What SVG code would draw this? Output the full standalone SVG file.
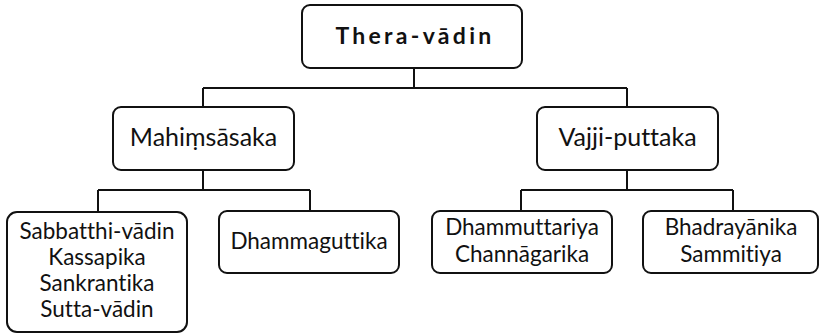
<svg xmlns="http://www.w3.org/2000/svg" width="820" height="333" viewBox="0 0 820 333">
<style>
.box{fill:#fff;stroke:#111;stroke-width:2}
.ln{fill:none;stroke:#111;stroke-width:2}
text{font-family:Lato,"Noto Sans",sans-serif;fill:#111;text-anchor:middle;font-variant-ligatures:none}
.mid{font-size:25px}
.low{font-size:22.5px}
.title{font-size:23px;font-weight:bold;letter-spacing:3.3px}
</style>
<rect width="820" height="333" fill="#fff"/>
<g id="connectors">
<path class="ln" d="M414,68V88M203,88H627M203,88V107M627,88V107"/>
<path class="ln" d="M203,170V190M98,190H310M98,190V212M310,190V211"/>
<path class="ln" d="M627,170V190M521,190H733M521,190V211M733,190V211"/>
</g>
<g id="thera-vadin">
<rect class="box" x="302" y="5" width="220" height="63" rx="8"/>
<text class="title" x="415" y="44">Thera-vādin</text>
</g>
<g id="mahimsasaka">
<rect class="box" x="113" y="107" width="181" height="63" rx="8"/>
<text class="mid" x="203.5" y="146">Mahiṃsāsaka</text>
</g>
<g id="vajji-puttaka">
<rect class="box" x="537" y="107" width="181" height="63" rx="8"/>
<text class="mid" x="627.5" y="146">Vajji-puttaka</text>
</g>
<g id="sabbatthi">
<rect class="box" x="7" y="212" width="180" height="120" rx="10"/>
<text class="low" x="97" y="239">Sabbatthi-vādin</text>
<text class="low" x="97" y="265">Kassapika</text>
<text class="low" x="97" y="291">Sankrantika</text>
<text class="low" x="97" y="317">Sutta-vādin</text>
</g>
<g id="dhammaguttika">
<rect class="box" x="219" y="211" width="180" height="62" rx="8"/>
<text class="low" x="309" y="249">Dhammaguttika</text>
</g>
<g id="dhammuttariya">
<rect class="box" x="432" y="211" width="180" height="62" rx="8"/>
<text class="low" x="522" y="235">Dhammuttariya</text>
<text class="low" x="522" y="262">Channāgarika</text>
</g>
<g id="bhadrayanika">
<rect class="box" x="643" y="211" width="175" height="62" rx="8"/>
<text class="low" x="731" y="235">Bhadrayānika</text>
<text class="low" x="731" y="262">Sammitiya</text>
</g>
</svg>
